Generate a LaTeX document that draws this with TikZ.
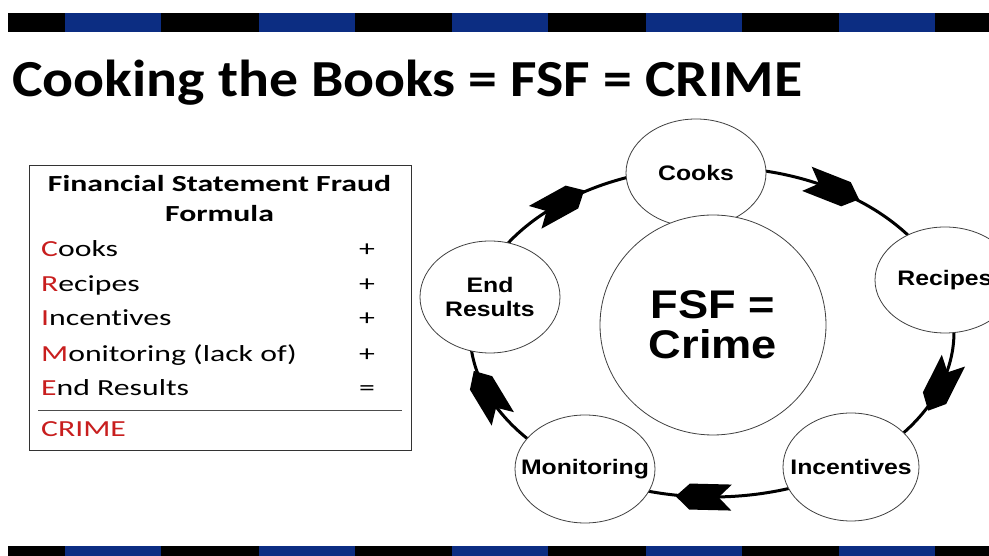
\documentclass[tikz,border=0pt]{standalone}
\usepackage{fontspec}
\usetikzlibrary{shapes.geometric}
\setmainfont{Carlito}
\newfontfamily\arialb[FakeStretch=1.18]{Liberation Sans}
\newfontfamily\hubfont[FakeStretch=1.13]{Liberation Sans}
\newfontfamily\titlefont[FakeStretch=1.11]{Carlito}
\newfontfamily\boxfont[FakeStretch=1.38, Ligatures=NoCommon]{Carlito}
\definecolor{barblue}{RGB}{12,45,130}
\definecolor{fsfred}{RGB}{200,30,30}
\newcommand\ringarrow[3]{\fill[shift={(#1,#2)}, rotate=#3] (28,0) -- (14,13) -- (-28,13) -- (-15,0) -- (-28,-13) -- (14,-13) -- cycle;}
\newcommand\mk[1]{\makebox[0pt][c]{#1}}
\tikzset{
  stage/.style={ellipse, draw=black!75, line width=0.8pt, fill=white, minimum width=140, minimum height=108, inner sep=0, font=\arialb\bfseries\fontsize{21}{24}\selectfont, align=center},
  hub/.style={ellipse, draw=black!75, line width=0.8pt, fill=white, minimum width=226, minimum height=220, inner sep=0, font=\hubfont\bfseries\fontsize{40}{40}\selectfont, align=center},
  row/.style={anchor=base west, inner sep=0, font=\boxfont\fontsize{23}{28}\selectfont},
  op/.style={anchor=base, inner sep=0, font=\boxfont\fontsize{23}{28}\selectfont},
  head/.style={anchor=base, inner sep=0, font=\boxfont\bfseries\fontsize{23}{28}\selectfont}
}
\begin{document}
\begin{tikzpicture}[x=1pt,y=1pt]
\useasboundingbox (0,0) rectangle (989,556);
\clip (0,0) rectangle (989,556);
\fill[white] (0,0) rectangle (989,556);
% bars
\fill[black] (8,524) rectangle (989,543);
\fill[black] (8,0) rectangle (989,10);
\foreach \i in {0,...,4}{
  \fill[barblue] ({65+193.5*\i},524) rectangle ({161+193.5*\i},543);
  \fill[barblue] ({65+193.5*\i},0) rectangle ({161+193.5*\i},10);
}
% title
\node[anchor=base west, inner sep=0, font=\titlefont\bfseries\fontsize{52}{60}\selectfont] (title) at (12,459) {Cooking the Books = FSF = CRIME};
% formula box
\node[draw=black!80, line width=1pt, rectangle, minimum width=382, minimum height=285, anchor=north west, inner sep=0] (box) at (29,391) {};
\node[head] (h1) at (219.5,364) {Financial Statement Fraud};
\node[head] (h2) at (219.5,334) {Formula};
\node[row] (r1) at (41,299) {{\color{fsfred}C}ooks};
\node[row] (r2) at (41,264) {{\color{fsfred}R}ecipes};
\node[row] (r3) at (41,230) {{\color{fsfred}I}ncent\kern0pt ives};
\node[row] (r4) at (41,194) {{\color{fsfred}M}onitoring (lack of)};
\node[row] (r5) at (41,160) {{\color{fsfred}E}nd Results};
\node[op] (o1) at (367,299) {+};
\node[op] (o2) at (367,264) {+};
\node[op] (o3) at (367,230) {+};
\node[op] (o4) at (367,194) {+};
\node[op] (o5) at (367,160) {=};
\coordinate (ruleL) at (38,146);
\coordinate (ruleR) at (402,146);
\draw[black!70, line width=0.8pt] (ruleL) -- (ruleR);
\node[row, text=fsfred] (crime) at (41,119) {CRIME};
% ring
\draw[line width=3pt] (712,224) ellipse [x radius=242, y radius=165];
\ringarrow{833}{366.9}{-21.5}
\ringarrow{940.8}{170.3}{243.2}
\ringarrow{703.6}{59.1}{178.6}
\ringarrow{488.3}{161.1}{121.2}
\ringarrow{559.7}{352.2}{28.9}
% nodes
\node[stage] (cooks) at (696,383) {\mk{Cooks}};
\node[stage, minimum height=106] (recipes) at (945,276) {\mk{Recipes}};
\node[stage, minimum width=136] (incent) at (851,89) {\mk{Incentives}};
\node[stage] (monit) at (585,87) {\mk{Monitoring}};
\node[stage, minimum height=112] (endres) at (490,259) {End\\Results};
\node[hub] (fsf) at (713,231) {FSF =\\Crime};
\end{tikzpicture}
\end{document}
